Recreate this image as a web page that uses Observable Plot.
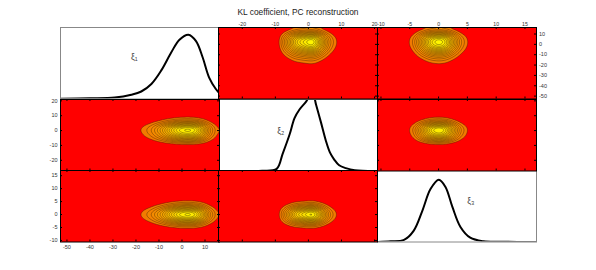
<!DOCTYPE html>
<html><head><meta charset="utf-8">
<script src="https://cdn.jsdelivr.net/npm/d3@7"></script>
<script src="https://cdn.jsdelivr.net/npm/@observablehq/plot@0.6"></script>
<style>
body{margin:0;background:#fff;}
#fig{position:relative;width:596px;height:270px;overflow:hidden;font-family:"Liberation Sans",Arial,sans-serif;}
#title{position:absolute;left:0;width:596px;top:8px;line-height:1;text-align:center;font-size:8.4px;color:#222;}
</style></head><body>
<div id="fig"><div id="title">KL coefficient, PC reconstruction</div></div>
<script>
// variable names and ranges
const varNames = ["ξ₁", "ξ₂", "ξ₃"];
const xi1Domain = [-52.8, 16.3];
const xi2Domain = [-27.2, 20.9];
const xi3Domain = [-10.6, 17];
// tick labels
const xi1Ticks = [-50, -40, -30, -20, -10, 0, 10];
const xi2Ticks = [-20, -10, 0, 10, 20];
const xi3Ticks = [-10, -5, 0, 5, 10, 15];
// marginal PDFs (relative height in panel)
const xi1X = [-52.5, -40, -29.2, -22, -17.7, -13.3, -9, -4.7, -1.1, 2.8, 6.1, 9, 11.8, 14.7, 16.3];
const xi1Pdf = [0.005, 0.01, 0.02, 0.06, 0.105, 0.21, 0.40, 0.65, 0.83, 0.90, 0.81, 0.58, 0.30, 0.14, 0.08];
const xi2X = [-18.6, -14, -9.6, -7.8, -5.7, -4.2, -2.7, -0.7, 0.6, 1.6, 2.3, 3.8, 5.3, 6.5, 7.8, 9.3, 11.3, 14, 20.7];
const xi2Pdf = [0, 0.003, 0.03, 0.24, 0.51, 0.74, 0.86, 0.97, 1.06, 1.04, 0.93, 0.68, 0.42, 0.26, 0.16, 0.08, 0.04, 0.01, 0];
const xi3X = [-10.5, -8.3, -6, -4.3, -2.8, -1.4, 0.05, 1.2, 2.4, 3.8, 5.5, 7.8, 11, 17];
const xi3Pdf = [0, 0.01, 0.03, 0.16, 0.44, 0.74, 0.87, 0.77, 0.49, 0.21, 0.06, 0.01, 0.003, 0];

const domains = [xi1Domain, xi2Domain, xi3Domain];
const ticks = [xi1Ticks, xi2Ticks, xi3Ticks];
const pdfX = [xi1X, xi2X, xi3X];
const pdfY = [xi1Pdf, xi2Pdf, xi3Pdf];

// layout
const colLeft = [59.5, 218, 377];
const rowTop = [27, 98.5, 170];
const W = 159, H = 71.5, M = 30;
const labelOffset = [[70.5, 26], [58.7, 28], [89.7, 27]];
const levels = d3.range(0.11, 0.97, 0.055);
const fig = document.getElementById("fig");
const fmt = d => String(d);

function marginal(k) {
  return d3.scaleLinear().domain(pdfX[k]).range(pdfY[k]).clamp(true);
}

function panel(r, c) {
  const xd = domains[c];
  const diag = r === c;
  const yd = diag ? [0, 1] : domains[r];
  const marks = [];
  if (diag) {
    const data = pdfX[c].map((x, i) => ({x, y: pdfY[c][i]}));
    marks.push(Plot.line(data, {x: "x", y: "y", stroke: "#000", strokeWidth: 2, curve: "catmull-rom", clip: "frame"}));
    marks.push(Plot.text([varNames[c]], {text: d => d, frameAnchor: "top-left", dx: labelOffset[c][0], dy: labelOffset[c][1], fontSize: 8.5, fill: "#444"}));
    marks.push(Plot.frame({stroke: "#888"}));
  } else {
    const fx = marginal(c), fy = marginal(r);
    const norm = d3.max(pdfY[c]) * d3.max(pdfY[r]);
    marks.push(Plot.frame({fill: "#ff0000"}));
    marks.push(Plot.contour({
      fill: (x, y) => fx(x) * fy(y) / norm,
      x1: xd[0], x2: xd[1], y1: yd[0], y2: yd[1],
      thresholds: levels, blur: 2, pixelSize: 1,
      stroke: "#2a1800", strokeWidth: 0.5, strokeOpacity: 0.75
    }));
    const xt = ticks[c], yt = ticks[r];
    marks.push(Plot.tickX(xt, {x: d => d, insetTop: H - 2, stroke: "#000"}));
    marks.push(Plot.tickX(xt, {x: d => d, insetBottom: H - 2, stroke: "#000"}));
    marks.push(Plot.tickY(yt, {y: d => d, insetRight: W - 2, stroke: "#000"}));
    marks.push(Plot.tickY(yt, {y: d => d, insetLeft: W - 2, stroke: "#000"}));
    marks.push(Plot.frame({stroke: "#000"}));
    if (r === 0) marks.push(Plot.axisX(ticks[c], {anchor: "top", tickSize: 0, tickPadding: 2, fontSize: 5.2, color: "#333", tickFormat: fmt, label: null}));
    if (r === 0 && c === 2) marks.push(Plot.axisY(ticks[r], {anchor: "right", tickSize: 0, tickPadding: 2.5, fontSize: 5.5, color: "#333", tickFormat: fmt, label: null}));
    if (c === 0) marks.push(Plot.axisY(ticks[r], {anchor: "left", tickSize: 0, tickPadding: 3, fontSize: 5.5, color: "#333", tickFormat: fmt, label: null}));
    if (c === 0 && r === 2) marks.push(Plot.axisX(ticks[c], {anchor: "bottom", tickSize: 0, tickPadding: 3, fontSize: 5.5, color: "#333", tickFormat: fmt, label: null}));
  }
  const svg = Plot.plot({
    width: W + 2 * M, height: H + 2 * M, margin: M,
    x: {domain: xd, axis: null},
    y: {domain: yd, axis: null},
    color: {type: "linear", domain: [levels[0], 0.55, levels[levels.length - 1]], range: ["#f27a00", "#f8b800", "#ffff00"]},
    style: {fontFamily: '"Liberation Sans", Arial, sans-serif'},
    marks
  });
  svg.style.position = "absolute";
  svg.style.left = (colLeft[c] - M) + "px";
  svg.style.top = (rowTop[r] - M) + "px";
  svg.style.background = "transparent";
  svg.style.maxWidth = "none";
  svg.style.overflow = "visible";
  fig.appendChild(svg);
}

for (let k = 0; k < 3; k++) panel(k, k);
for (let r = 0; r < 3; r++) for (let c = 0; c < 3; c++) if (r !== c) panel(r, c);
</script>
</body></html>
